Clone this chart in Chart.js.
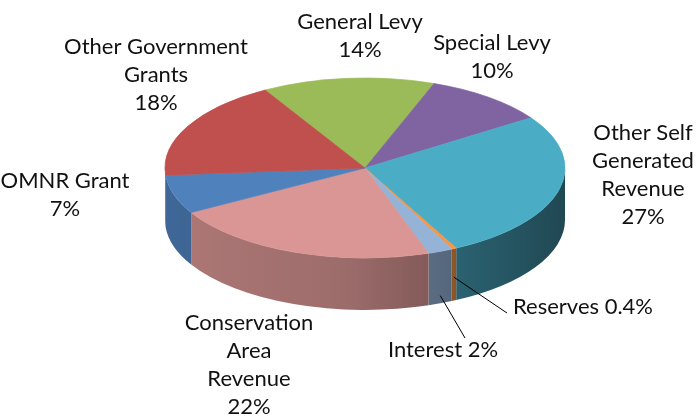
<!DOCTYPE html>
<html>
<head>
    <title>Revenue Sources</title>
    <script src="https://cdn.jsdelivr.net/npm/chart.js"></script>
    <style>
        body {
            margin: 0;
            background: #fff;
        }

        #wrap {
            width: 697px;
            height: 420px;
            position: relative;
        }
    </style>
</head>
<body>
<div id="wrap"><canvas id="revenueChart"></canvas></div>
<script>
    // slices, clockwise from the top
    const categories = ['General Levy', 'Special Levy', 'Other Self Generated Revenue', 'Reserves',
        'Interest', 'Conservation Area Revenue', 'OMNR Grant', 'Other Government Grants'];
    const shares = [14, 10, 27, 0.4, 2, 22, 7, 18];
    const shareText = ['14%', '10%', '27%', '0.4%', '2%', '22%', '7%', '18%'];
    const labelLines = [
        ['General Levy'],
        ['Special Levy'],
        ['Other Self', 'Generated', 'Revenue'],
        ['Reserves'],
        ['Interest'],
        ['Conservation', 'Area', 'Revenue'],
        ['OMNR Grant'],
        ['Other Government', 'Grants']
    ];
    const sliceColors = ['#9bbb59', '#8064a2', '#4bacc6', '#f79646', '#95b3d7', '#d99694', '#4f81bd', '#c0504d'];

    // layout of the flattened pie and its labels
    const geo = {cx: 365, cy: 168, rx: 200, ry: 90, depth: 52};
    const labelAt = [[360, 22], [492, 43], [643, 133], [583, 307], [443, 350], [249, 323], [65, 181], [156, 47]];
    const inlinePct = [false, false, false, true, true, false, false, false];
    const leaders = {3: {frac: 0.55, end: [507, 313]}, 4: {frac: 0.85, end: [465, 338]}};
    const lineGap = 28;

    function shade(hex, f) {
        const n = parseInt(hex.slice(1), 16);
        const r = Math.round(((n >> 16) & 255) * f);
        const g = Math.round(((n >> 8) & 255) * f);
        const b = Math.round((n & 255) * f);
        return `rgb(${r}, ${g}, ${b})`;
    }

    const pie3d = {
        id: 'pie3d',
        beforeDatasetsDraw(chart) {
            const ctx = chart.ctx;
            const arcs = chart.getDatasetMeta(0).data;
            // side walls on the front half
            arcs.forEach((arc, i) => {
                const s = arc.startAngle, e = arc.endAngle;
                for (let k = -1; k <= 2; k++) {
                    const lo = Math.max(s, 2 * Math.PI * k);
                    const hi = Math.min(e, 2 * Math.PI * k + Math.PI);
                    if (hi <= lo) continue;
                    const c = sliceColors[i];
                    const grad = ctx.createLinearGradient(geo.cx - geo.rx, 0, geo.cx + geo.rx, 0);
                    grad.addColorStop(0, shade(c, 0.8));
                    grad.addColorStop(0.45, shade(c, 0.72));
                    grad.addColorStop(1, shade(c, 0.42));
                    ctx.beginPath();
                    ctx.ellipse(geo.cx, geo.cy, geo.rx, geo.ry, 0, lo, hi);
                    ctx.ellipse(geo.cx, geo.cy + geo.depth, geo.rx, geo.ry, 0, hi, lo, true);
                    ctx.closePath();
                    ctx.fillStyle = grad;
                    ctx.fill();
                }
            });
            // squash the top face into an ellipse
            const a0 = arcs[0];
            const R = a0.outerRadius;
            ctx.save();
            ctx.translate(geo.cx, geo.cy);
            ctx.scale(geo.rx / R, geo.ry / R);
            ctx.translate(-a0.x, -a0.y);
        },
        afterDatasetsDraw(chart) {
            const ctx = chart.ctx;
            ctx.restore();
            const arcs = chart.getDatasetMeta(0).data;

            ctx.save();
            ctx.strokeStyle = '#000';
            ctx.lineWidth = 1;
            Object.keys(leaders).forEach(key => {
                const i = Number(key);
                const arc = arcs[i];
                const mid = (arc.startAngle + arc.endAngle) / 2;
                const x = geo.cx + geo.rx * Math.cos(mid);
                const y = geo.cy + geo.ry * Math.sin(mid) + geo.depth * leaders[i].frac;
                ctx.beginPath();
                ctx.moveTo(x, y);
                ctx.lineTo(leaders[i].end[0], leaders[i].end[1]);
                ctx.stroke();
            });

            ctx.font = '22px Lato';
            ctx.fillStyle = '#111';
            ctx.textAlign = 'center';
            ctx.textBaseline = 'middle';
            categories.forEach((cat, i) => {
                let lines = labelLines[i].slice();
                if (inlinePct[i]) {
                    lines[lines.length - 1] += ' ' + shareText[i];
                } else {
                    lines.push(shareText[i]);
                }
                lines.forEach((t, j) => {
                    ctx.fillText(t, labelAt[i][0], labelAt[i][1] + j * lineGap);
                });
            });
            ctx.restore();
        }
    };

    const ctx = document.getElementById('revenueChart').getContext('2d');
    const revenueChart = new Chart(ctx, {
        type: 'pie',
        data: {
            labels: categories,
            datasets: [{
                data: shares,
                backgroundColor: sliceColors,
                borderColor: sliceColors,
                borderWidth: 1,
                clip: false
            }]
        },
        options: {
            responsive: true,
            maintainAspectRatio: false,
            animation: false,
            rotation: -30,
            plugins: {
                legend: {display: false},
                tooltip: {enabled: false}
            }
        },
        plugins: [pie3d]
    });
</script>
</body>
</html>
